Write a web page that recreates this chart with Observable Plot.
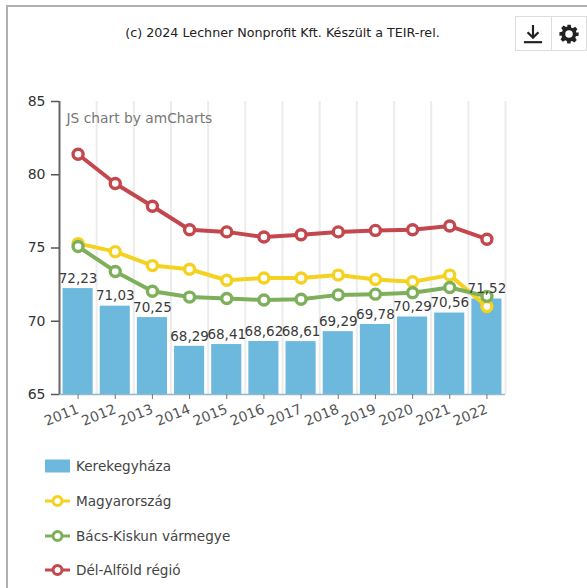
<!DOCTYPE html>
<html><head><meta charset="utf-8">
<script src="https://cdn.jsdelivr.net/npm/d3@7"></script>
<script src="https://cdn.jsdelivr.net/npm/@observablehq/plot@0.6"></script>
<style>
html,body{margin:0;padding:0;background:#fff;overflow:hidden}
body{width:587px;height:588px;position:relative;font-family:"DejaVu Sans",sans-serif;color:#333}
#frame{position:absolute;left:6px;top:5px;right:-4px;bottom:-4px;border:2px solid #b0b0b0}
#title{position:absolute;left:0;top:25px;width:565px;text-align:center;font-size:12.7px;color:#222;white-space:nowrap}
#chart{position:absolute;left:0;top:0}
#tools{position:absolute;left:515px;top:16px;width:70px;height:33px;border:1px solid #ddd;display:flex}
#tools div{flex:1;display:flex;align-items:center;justify-content:center}
#tools div+div{border-left:1px solid #ddd}
#legend{position:absolute;left:45px;top:449px}
.row{height:34.7px;display:flex;align-items:center;font-size:13.6px;color:#444;white-space:nowrap}
.row svg{margin-right:6px}
</style></head><body>
<div id="frame"></div>
<div id="title">(c) 2024 Lechner Nonprofit Kft. Készült a TEIR-rel.</div>
<div id="chart"></div>
<div id="tools">
<div><svg width="20" height="22" viewBox="0 0 22 24"><path d="M11 2V15M5 10L11 16L17 10" fill="none" stroke="#222" stroke-width="2.4"/><path d="M1 21H21" stroke="#222" stroke-width="2.4"/></svg></div>
<div><svg width="20" height="20" viewBox="0 0 24 24"><path fill="#222" fill-rule="evenodd" d="M10 1h4l.7 3.2 1.8.8 2.8-1.8 2.8 2.8-1.8 2.8.8 1.8L23.500 10v4l-3.200.7-.8 1.800 1.800 2.800-2.800 2.800-2.800-1.800-1.800.8L14 23.500h-4l-.7-3.200-1.800-.8-2.800 1.800-2.800-2.800 1.800-2.800-.8-1.800L.5 14v-4l3.200-.7.8-1.800L2.700 4.700l2.800-2.800 2.800 1.800 1.800-.8zM12 7.500a4.500 4.500 0 1 0 0 9 4.500 4.500 0 0 0 0-9z"/></svg></div>
</div>
<div id="legend"></div>
<script>
const years = ["2011","2012","2013","2014","2015","2016","2017","2018","2019","2020","2021","2022"];
const kerekegyhaza = [72.23,71.03,70.25,68.29,68.41,68.62,68.61,69.29,69.78,70.29,70.56,71.52];
const magyarorszag = [75.3,74.75,73.8,73.55,72.8,72.95,72.95,73.15,72.85,72.7,73.15,71.0];
const bacsKiskun = [75.1,73.4,72.05,71.65,71.55,71.45,71.5,71.8,71.85,71.95,72.3,71.7];
const delAlfold = [81.4,79.4,77.85,76.25,76.1,75.75,75.9,76.1,76.2,76.25,76.5,75.6];
const yTicks = [65,70,75,80,85];
const barColor = "#6db9de";
const lineSeries = [
  {name:"Magyarország", values:magyarorszag, color:"#f5d21f"},
  {name:"Bács-Kiskun vármegye", values:bacsKiskun, color:"#7eb05c"},
  {name:"Dél-Alföld régió", values:delAlfold, color:"#c4474d"}
];
const barRows = years.map((year,i)=>({year,value:kerekegyhaza[i]}));
const comma = v => v.toFixed(2).replace(".",",");
const step = 446/12;

const lineMarks = lineSeries.flatMap(s=>{
  const rows = years.map((year,i)=>({year,value:s.values[i]}));
  return [
    Plot.line(rows,{x:"year",y:"value",stroke:s.color,strokeWidth:4,curve:"linear"}),
    Plot.dot(rows,{x:"year",y:"value",r:5,fill:"#fff",stroke:s.color,strokeWidth:3.4})
  ];
});

const plot = Plot.plot({
  width:587, height:430,
  marginLeft:59, marginRight:82, marginTop:101, marginBottom:36,
  style:{fontFamily:"'DejaVu Sans',sans-serif",background:"transparent",color:"#333"},
  x:{type:"band",domain:years,round:false,paddingInner:0.19,paddingOuter:0.095,align:0.5,label:null},
  y:{domain:[65,85],label:null},
  marks:[
    Plot.ruleX(years,{x:d=>d,dx:step/2,stroke:"#ececec",strokeWidth:2,strokeOpacity:1}),
    Plot.barY(barRows,{x:"year",y1:()=>65,y2:"value",fill:barColor}),
    Plot.ruleY([65],{stroke:"#8fb8cc",strokeWidth:1.5}),
    Plot.ruleX([years[0]],{x:d=>d,dx:-step/2,stroke:"#666",strokeWidth:2,strokeOpacity:1}),
    Plot.axisY({ticks:yTicks,tickSize:8,tickPadding:6,fontSize:14,stroke:"#555",strokeWidth:1.5,fill:"#333",tickFormat:d=>d,label:null}),
    Plot.axisX({tickSize:5,tickPadding:9,tickRotate:-22,fontSize:14,stroke:"#777",fill:"#555",label:null}),
    ...lineMarks,
    Plot.text(barRows,{x:"year",y:"value",text:d=>comma(d.value),dy:-10,fontSize:13.5,fill:"#3a3a3a"}),
    Plot.text(["JS chart by amCharts"],{frameAnchor:"top-left",dx:7,dy:12,textAnchor:"start",fontSize:13.8,fill:"#777"})
  ]
});
document.getElementById("chart").append(plot);

const legend = document.getElementById("legend");
function row(name, inner){
  const d = document.createElement("div"); d.className="row";
  d.innerHTML = `<svg width="25" height="16" viewBox="0 0 25 16">${inner}</svg><span>${name}</span>`;
  legend.append(d);
}
row("Kerekegyháza", `<rect x="0" y="1.500" width="25" height="13" fill="${barColor}"/>`);
lineSeries.forEach(s=>row(s.name,
  `<line x1="0" x2="25" y1="8" y2="8" stroke="${s.color}" stroke-width="3"/><circle cx="12.500" cy="8" r="4.500" fill="#fff" stroke="${s.color}" stroke-width="3"/>`));
</script>
</body></html>
